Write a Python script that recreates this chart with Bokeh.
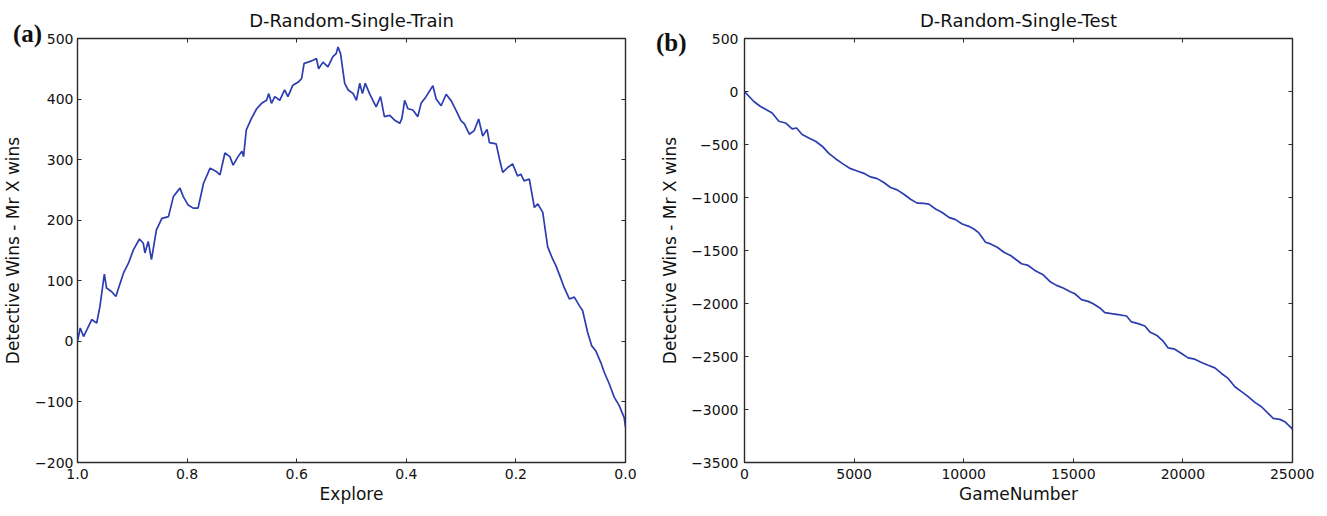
from bokeh.plotting import figure
from bokeh.layouts import row
from bokeh.models import Range1d, FixedTicker, LinearAxis, CustomJSTickFormatter, Div
from bokeh.embed import file_html
from bokeh.resources import INLINE

# ---------------- data ----------------
train_explore = [
    1.000, 0.995, 0.989, 0.983, 0.974, 0.965, 0.959, 0.951, 0.947, 0.9375,
    0.930, 0.925, 0.916, 0.907, 0.898, 0.887, 0.880, 0.877, 0.871, 0.865,
    0.856, 0.846, 0.834, 0.825, 0.813, 0.807, 0.798, 0.789, 0.780, 0.770,
    0.758, 0.746, 0.740, 0.731, 0.722, 0.716, 0.707, 0.700, 0.697, 0.692,
    0.6825, 0.673, 0.664, 0.655, 0.651, 0.646, 0.640, 0.631, 0.622, 0.616,
    0.607, 0.597, 0.591, 0.5865, 0.579, 0.570, 0.564, 0.560, 0.552, 0.543,
    0.534, 0.528, 0.5246, 0.520, 0.5124, 0.506, 0.497, 0.491, 0.485, 0.480,
    0.4749, 0.467, 0.461, 0.455, 0.447, 0.440, 0.430, 0.421, 0.412, 0.408,
    0.403, 0.397, 0.388, 0.379, 0.373, 0.364, 0.3515, 0.3455, 0.3364, 0.3273,
    0.318, 0.309, 0.300, 0.294, 0.285, 0.276, 0.268, 0.2605, 0.2526, 0.2483,
    0.236, 0.230, 0.224, 0.215, 0.206, 0.197, 0.191, 0.185, 0.1755, 0.1663,
    0.160, 0.151, 0.142, 0.133, 0.127, 0.121, 0.112, 0.1025, 0.0934, 0.0843,
    0.0783, 0.0692, 0.0619, 0.054, 0.045, 0.0388, 0.0297, 0.0206, 0.0115, 0.0024,
    0.000,
]
train_diff = [
    0, 22, 8, 19, 36, 30, 58, 111, 88, 82,
    74, 88, 113, 129, 151, 169, 162, 146, 165, 135,
    184, 203, 206, 239, 253, 239, 225, 220, 220, 261,
    286, 280, 275, 311, 305, 291, 305, 314, 305, 349,
    368, 384, 393, 398, 409, 393, 404, 398, 415, 404,
    423, 428, 434, 459, 461, 464, 467, 450, 461, 453,
    470, 475, 486, 475, 426, 415, 409, 398, 426, 409,
    426, 409, 398, 387, 404, 371, 373, 365, 360, 368,
    398, 384, 382, 371, 393, 404, 422, 400, 389, 408,
    397, 381, 364, 359, 342, 348, 367, 339, 350, 328,
    326, 301, 279, 287, 293, 273, 276, 265, 268, 221,
    227, 213, 156, 136, 125, 111, 89, 70, 73, 59,
    51, 15, -7, -16, -35, -51, -70, -92, -106, -126,
    -142,
]

test_game = [
    0, 426, 730, 1262, 1567, 1871, 2175, 2373, 2631, 2936,
    3240, 3544, 3848, 4152, 4457, 4837, 5141, 5445, 5749, 6054,
    6358, 6662, 6966, 7270, 7575, 7879, 8183, 8411, 8715, 9020,
    9324, 9628, 9932, 10236, 10464, 10692, 10997, 11225, 11529, 11833,
    12138, 12442, 12637, 12941, 13245, 13625, 13930, 14234, 14538, 14842,
    15070, 15374, 15678, 15907, 16211, 16439, 16743, 17047, 17427, 17655,
    17960, 18264, 18492, 18796, 19100, 19328, 19632, 19937, 20241, 20545,
    20849, 21153, 21457, 21761, 22065, 22370, 22674, 22978, 23282, 23586,
    23890, 24118, 24422, 24650, 24802, 25000,
]
test_diff = [
    0, -94, -141, -203, -281, -297, -353, -344, -406, -438,
    -469, -516, -584, -634, -678, -728, -750, -772, -806, -822,
    -859, -906, -928, -969, -1016, -1053, -1056, -1063, -1109, -1141,
    -1188, -1209, -1250, -1272, -1297, -1334, -1422, -1438, -1469, -1516,
    -1547, -1594, -1625, -1641, -1688, -1729, -1792, -1829, -1854, -1886,
    -1908, -1964, -1980, -2002, -2042, -2086, -2096, -2105, -2118, -2174,
    -2190, -2212, -2268, -2299, -2356, -2419, -2431, -2472, -2513, -2525,
    -2556, -2582, -2607, -2660, -2707, -2785, -2832, -2879, -2933, -2974,
    -3036, -3083, -3093, -3115, -3146, -3184,
]

train_xticks = [1.0, 0.8, 0.6, 0.4, 0.2, 0.0]
train_yticks = [-200, -100, 0, 100, 200, 300, 400, 500]
test_xticks = [0, 5000, 10000, 15000, 20000, 25000]
test_yticks = [-3500, -3000, -2500, -2000, -1500, -1000, -500, 0, 500]
panel_tags = ["(a)", "(b)"]

LINE = "#2b3db0"
FONT = "DejaVu Sans"
FRAME = "#2a2a2a"

fmt_int = CustomJSTickFormatter(code="return (tick < 0 ? '\\u2212' : '') + Math.abs(tick).toFixed(0);")
fmt_one = CustomJSTickFormatter(code="return (tick < 0 ? '\\u2212' : '') + Math.abs(tick).toFixed(1);")


def style_axis(ax, show_labels=True):
    ax.major_tick_in = 4
    ax.major_tick_out = 0
    ax.major_tick_line_color = FRAME
    ax.minor_tick_line_color = None
    ax.axis_line_color = None
    ax.major_label_text_font = FONT
    ax.major_label_text_color = "#111111"
    ax.major_label_text_font_size = "14px"
    if not show_labels:
        ax.formatter = CustomJSTickFormatter(code="return '';")
        ax.major_label_standoff = 0
        ax.major_label_text_font_size = "1px"
    ax.axis_label_text_font = FONT
    ax.axis_label_text_font_size = "17px"
    ax.axis_label_text_font_style = "normal"
    ax.axis_label_text_color = "#111111"


def make_fig(title, xr, yr, xticks, yticks, xfmt, yfmt, xlabel, ylabel,
             border_left, border_right, ytick_standoff, ylabel_standoff):
    p = figure(frame_width=548, frame_height=424, x_range=xr, y_range=yr,
               output_backend="svg", toolbar_location=None, title=title,
               min_border_left=border_left, min_border_right=border_right,
               min_border_top=26, min_border_bottom=40)
    p.grid.visible = False
    p.outline_line_color = FRAME
    p.outline_line_width = 1.4
    p.title.text_font = FONT
    p.title.text_font_size = "18px"
    p.title.text_font_style = "normal"
    p.title.text_color = "#111111"
    p.title.align = "center"
    p.title.standoff = 15

    p.xaxis.ticker = FixedTicker(ticks=xticks)
    p.yaxis.ticker = FixedTicker(ticks=yticks)
    p.xaxis.formatter = xfmt
    p.yaxis.formatter = yfmt
    p.xaxis.axis_label = xlabel
    p.yaxis.axis_label = ylabel
    for ax in p.xaxis + p.yaxis:
        style_axis(ax)
    p.xaxis.major_label_standoff = 6
    p.xaxis.axis_label_standoff = 2
    p.yaxis.major_label_standoff = ytick_standoff
    p.yaxis.axis_label_standoff = ylabel_standoff

    top = LinearAxis(ticker=FixedTicker(ticks=xticks))
    style_axis(top, show_labels=False)
    p.add_layout(top, "above")
    right = LinearAxis(ticker=FixedTicker(ticks=yticks))
    style_axis(right, show_labels=False)
    p.add_layout(right, "right")
    return p


def tag_div(text, left, top):
    return Div(text=text, styles={
        "position": "absolute", "left": f"{left}px", "top": f"{top}px",
        "font-family": "'Liberation Serif', 'Times New Roman', serif",
        "font-weight": "bold", "font-size": "25px", "line-height": "29px",
        "color": "#111111", "margin": "0", "padding": "0",
    })


p1 = make_fig("D-Random-Single-Train", Range1d(1.0, 0.0), Range1d(-200, 500),
              train_xticks, train_yticks, fmt_one, fmt_int,
              "Explore", "Detective Wins - Mr X wins", 71, 32, 4, 9)
p1.line(train_explore, train_diff, line_color=LINE, line_width=1.7)

p2 = make_fig("D-Random-Single-Test", Range1d(0, 25000), Range1d(-3500, 500),
              test_xticks, test_yticks, fmt_int, fmt_int,
              "GameNumber", "Detective Wins - Mr X wins", 81, 22, 6, 8)
p2.line(test_game, test_diff, line_color=LINE, line_width=1.7)

layout = row(p1, p2, tag_div(panel_tags[0], 13, 19), tag_div(panel_tags[1], 656, 28))
open("out.html", "w").write(file_html(layout, INLINE))
